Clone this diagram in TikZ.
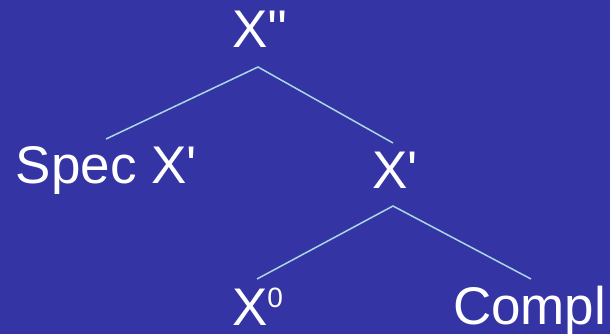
\documentclass[tikz,border=0pt]{standalone}
\usepackage{fontspec}
\setmainfont{Liberation Sans}[Ligatures=TeXOff]
\definecolor{bgblue}{RGB}{52,52,164}
\definecolor{linecol}{RGB}{170,215,232}
\begin{document}
\begin{tikzpicture}[x=1pt,y=-1pt,
  lbl/.style={text=white,inner sep=0pt,outer sep=0pt,anchor=base west,font=\fontsize{53}{53}\selectfont},
  branch/.style={draw=linecol,line width=1.5pt}]
\fill[bgblue] (0,0) rectangle (610,334);
\useasboundingbox (0,0) rectangle (610,334);
\node[lbl] (xpp) at (232,48) {X''};
\node[lbl] (spec) at (16,183) {Spec X'};
\node[lbl] (xp) at (372,188) {X'};
\node[lbl] (x0) at (232,325) {X\raisebox{18pt}{\fontsize{28}{28}\selectfont 0}};
\node[lbl] (compl) at (453,324) {Compl};
\coordinate (top) at (258,67);
\coordinate (specend) at (106,139);
\coordinate (xpend) at (393,143);
\coordinate (mid) at (393,206);
\coordinate (x0end) at (257,279);
\coordinate (complend) at (531,279);
\draw[branch] (specend) -- (top) -- (xpend);
\draw[branch] (x0end) -- (mid) -- (complend);
\end{tikzpicture}
\end{document}
